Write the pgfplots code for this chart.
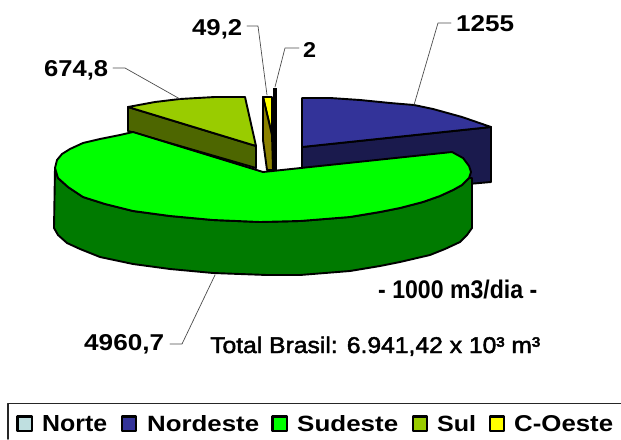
\documentclass[border=0pt]{standalone}
\usepackage{pgfplots}
\pgfplotsset{compat=1.18}
\usepackage{graphicx}
\usepackage{fontspec}
\setmainfont{Liberation Sans}
\newfontfamily\semibold[FakeBold=2]{Liberation Sans}
\newcommand{\LBL}[5]{\node[anchor=base west,inner sep=0pt] at (axis cs:#1,#2) {\resizebox{#3pt}{#4pt}{#5}};}
\definecolor{cNorte}{HTML}{BFDFE0}
\definecolor{cBlue}{HTML}{333399}
\definecolor{cBlueD}{HTML}{1A1A4D}
\definecolor{cGreen}{HTML}{00FF00}
\definecolor{cGreenD}{HTML}{007A00}
\definecolor{cSul}{HTML}{99CC00}
\definecolor{cSulD}{HTML}{4D6600}
\definecolor{cYel}{HTML}{FFFF00}
\definecolor{cYelD}{HTML}{8B8000}
\begin{document}
\begin{tikzpicture}
\begin{axis}[
  scale only axis, width=621pt, height=439pt,
  xmin=0, xmax=621, ymin=0, ymax=439, y dir=reverse,
  hide axis, clip=false,
  every axis plot/.append style={line join=round, line cap=round},
]
\path[use as bounding box] (axis cs:0,0) rectangle (axis cs:621,439);
% Nordeste
\addplot[draw=black,line width=1.9pt,fill=cBlueD] coordinates {(302,147)(491,127)(491,182)(400,190)(302,190)} --cycle;
\addplot[draw=black,line width=1.9pt,fill=cBlue] coordinates {(302,98)(330,98)(360,100)(390,103)(414,105)(433,109)(462,117)(491,127)(302,147)} --cycle;
% Sul
\addplot[draw=black,line width=1.9pt,fill=cSulD] coordinates {(128,107)(256,146)(256,168)(128,131)} --cycle;
\addplot[draw=black,line width=1.9pt,fill=cSul] coordinates {(128,107)(155,102)(180,99)(215,97)(245,97)(256,146)} --cycle;
% C-Oeste
\addplot[draw=black,line width=1.9pt,fill=cYel] coordinates {(263,97)(272,97)(272,135)} --cycle;
\addplot[draw=black,line width=1.9pt,fill=cYelD] coordinates {(263,97)(272,135)(273,170)(267,170)(263,140)} --cycle;
% Norte
\addplot[draw=black,line width=4.5pt,line cap=butt] coordinates {(275,88)(275,170)};
% Sudeste
\addplot[draw=black,line width=1.9pt,fill=cGreenD] coordinates {(55,168)(58,178)(68,187)(83,197)(105,204)(133,211)(170,216)(213,220)(260,222)(300,221)(350,217)(380,212)(400,208)(423,202)(440,196)(453,190)(462,185)(469,178)(472,178)(472,228)(467,235)(460,242)(445,249)(430,255)(400,262)(380,266)(350,271)(300,275)(267,275)(213,273)(170,269)(133,264)(100,257)(80,249)(67,243)(58,235)(54,228)} --cycle;
\addplot[draw=black,line width=1.9pt,fill=cGreen] coordinates {(55,168)(58,178)(68,187)(83,197)(105,204)(133,211)(170,216)(213,220)(260,222)(300,221)(350,217)(380,212)(400,208)(423,202)(440,196)(453,190)(462,185)(469,178)(471,172)(469,166)(463,158)(452,152)(263,172)(133,132)(120,135)(100,139)(83,143)(70,149)(62,154)(57,160)} --cycle;
% leaders
\addplot[draw=black!70,line width=0.7pt] coordinates {(451,23)(438,23)(414,105)};
\addplot[draw=black!70,line width=0.7pt] coordinates {(247,26)(258,26)(267,95)};
\addplot[draw=black!70,line width=0.7pt] coordinates {(299,48)(285,48)(275,87)};
\addplot[draw=black!70,line width=0.7pt] coordinates {(113,68)(125,68)(180,99)};
\addplot[draw=black!70,line width=0.7pt] coordinates {(170,344)(182,344)(215,275)};
% labels
\LBL{456}{31}{58}{16}{\bfseries 1255}
\LBL{192}{35}{50}{16}{\bfseries 49,2}
\LBL{303}{57}{13}{15}{\bfseries 2}
\LBL{44}{76}{64}{16}{\bfseries 674,8}
\LBL{84}{350}{80}{16}{\bfseries 4960,7}
\LBL{378}{298}{159}{18.5}{\bfseries - 1000 m3/dia -}
\LBL{210}{353}{330}{16.5}{\semibold Total Brasil: 6.941,42 x 10³ m³}
% legend frame
\addplot[draw=black!85,line width=1.8pt] coordinates {(8,439)(8,403.5)(621,403.5)};
\addplot[only marks,mark=square*,mark size=7.2pt,mark options={fill=cNorte,draw=black,line width=2.4pt}] coordinates {(24.5,423.5)};
\addplot[only marks,mark=square*,mark size=7.2pt,mark options={fill=cBlue,draw=black,line width=2.4pt}] coordinates {(129,423.5)};
\addplot[only marks,mark=square*,mark size=7.2pt,mark options={fill=cGreen,draw=black,line width=2.4pt}] coordinates {(279.5,423.5)};
\addplot[only marks,mark=square*,mark size=7.2pt,mark options={fill=cSul,draw=black,line width=2.4pt}] coordinates {(420,423.5)};
\addplot[only marks,mark=square*,mark size=7.2pt,mark options={fill=cYel,draw=black,line width=2.4pt}] coordinates {(497,423.5)};
\LBL{42}{431}{65}{16}{\bfseries Norte}
\LBL{147}{431}{112}{16}{\bfseries Nordeste}
\LBL{297}{431}{101}{16}{\bfseries Sudeste}
\LBL{437}{431}{39}{16}{\bfseries Sul}
\LBL{514}{431}{99}{16}{\bfseries C-Oeste}
\end{axis}
\end{tikzpicture}
\end{document}
